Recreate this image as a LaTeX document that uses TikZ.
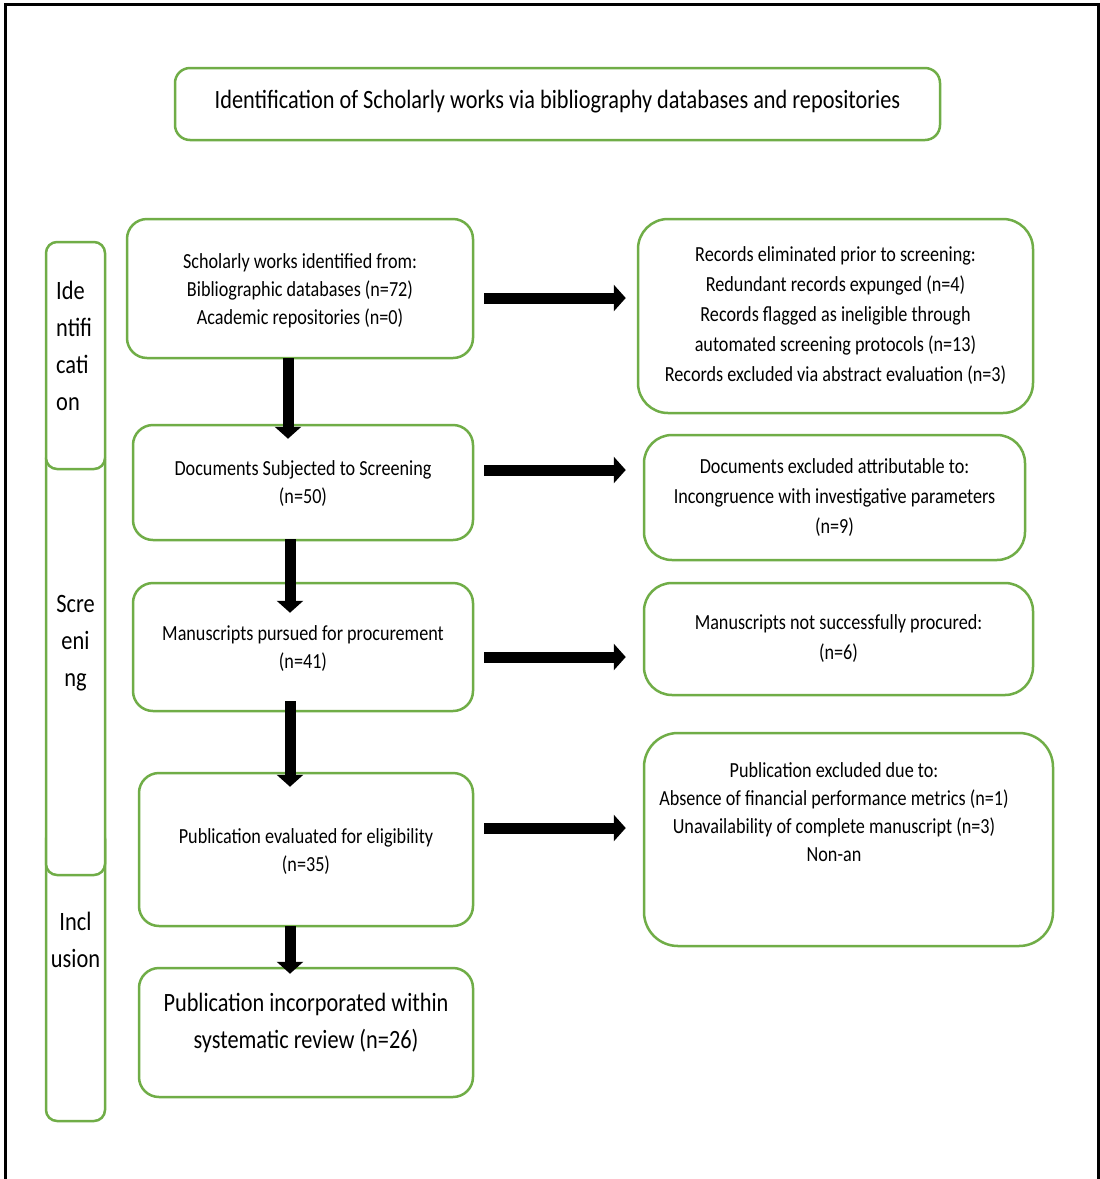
\documentclass[tikz,border=0pt]{standalone}
\usepackage{fontspec}
\setmainfont{Carlito}[FakeStretch=0.845]
\usetikzlibrary{arrows.meta,calc}
\definecolor{boxgreen}{HTML}{70AD47}
\begin{document}
\begin{tikzpicture}[x=1pt,y=-1pt,
  gbox/.style={draw=boxgreen,line width=2.5pt,fill=white,inner sep=0pt,align=center,text=black},
  maintext/.style={font=\fontsize{21.5}{28}\selectfont,align=center,inner sep=0pt},
  righttext/.style={font=\fontsize{21.5}{30}\selectfont},
  bigtext/.style={font=\fontsize{26.4}{37}\selectfont},
  sidetext/.style={font=\fontsize{26.5}{37}\selectfont,inner sep=0pt},
  fatarrow/.style={line width=11pt,-{Triangle[length=12pt,width=26pt]}}]
\useasboundingbox (0,0) rectangle (1100,1179);
\fill[white] (0,0) rectangle (1100,1179);
% outer frame
\draw[line width=3pt] (5,1179) -- (5,4) -- (1098,4) -- (1098,1179);
% title
\node[gbox,rounded corners=15pt,minimum width=765pt,minimum height=72pt] (title) at (557.5,104) {};
\node[font=\fontsize{26.4}{30}\selectfont,inner sep=0pt] (titlet) at ($(title)+(0,-2.5)$) {Identification of Scholarly works via bibliography databases and repositories};
% side phase boxes
\node[gbox,rounded corners=11pt,minimum width=59pt,minimum height=293pt] (s3) at (75.5,974.5) {};
\node[gbox,rounded corners=11pt,minimum width=59pt,minimum height=427pt] (s2) at (75.5,661.5) {};
\node[gbox,rounded corners=11pt,minimum width=59pt,minimum height=227pt] (s1) at (75.5,355.5) {};
\node[sidetext,align=left,anchor=west] (s1t) at (56,346) {Ide\\ntifi\\cati\\on};
\node[sidetext,align=center] (s2t) at (75.5,643) {Scre\\eni\\ng};
\node[sidetext,align=center] (s3t) at (75.5,940) {Incl\\usion};
% main boxes
\node[gbox,rounded corners=20pt,minimum width=346pt,minimum height=139pt] (b1) at (300,288.5) {};
\node[maintext] (b1t) at ($(b1)+(0,2)$) {Scholarly works identified from:\\Bibliographic databases (n=72)\\Academic repositories (n=0)};
\node[gbox,rounded corners=20pt,minimum width=340pt,minimum height=115pt] (b2) at (303,482.5) {};
\node[maintext] (b2t) at ($(b2)+(0,1.5)$) {Documents Subjected to Screening\\(n=50)};
\node[gbox,rounded corners=20pt,minimum width=340pt,minimum height=128pt] (b3) at (303,647) {};
\node[maintext] (b3t) at ($(b3)+(0,2)$) {Manuscripts pursued for procurement\\(n=41)};
\node[gbox,rounded corners=20pt,minimum width=334pt,minimum height=153pt] (b4) at (306,849.5) {};
\node[maintext] (b4t) at ($(b4)+(0,2)$) {Publication evaluated for eligibility\\(n=35)};
\node[gbox,rounded corners=20pt,minimum width=334pt,minimum height=129pt] (b5) at (306,1032.5) {};
\node[bigtext,align=center,inner sep=0pt] (b5t) at (306,1023) {Publication incorporated within\\systematic review (n=26)};
% right boxes
\node[gbox,righttext,rounded corners=30pt,minimum width=395pt,minimum height=194pt] (r1) at (835.5,316) {Records eliminated prior to screening:\\Redundant records expunged (n=4)\\Records flagged as ineligible through\\automated screening protocols (n=13)\\Records excluded via abstract evaluation (n=3)};
\node[gbox,righttext,rounded corners=28pt,minimum width=381pt,minimum height=125pt] (r2) at (834.5,497.5) {Documents excluded attributable to:\\Incongruence with investigative parameters\\(n=9)};
\node[gbox,righttext,rounded corners=28pt,minimum width=389pt,minimum height=112pt] (r3) at (838.5,639) {Manuscripts not successfully procured:\\(n=6)};
\node[gbox,rounded corners=34pt,minimum width=409pt,minimum height=213pt] (r4) at (848.5,839.5) {};
\node[maintext] (r4t) at (834,812) {Publication excluded due to:\\Absence of financial performance metrics (n=1)\\Unavailability of complete manuscript (n=3)\\Non-an};
% vertical arrows
\draw[fatarrow] ($(b1.south)+(-12,-1)$) -- ($(b2.north)+(-15,15)$);
\draw[fatarrow] ($(b2.south)+(-13,-2)$) -- ($(b3.north)+(-13,31)$);
\draw[fatarrow] ($(b3.south)+(-13,-11)$) -- ($(b4.north)+(-16,15)$);
\draw[fatarrow] ($(b4.south)+(-16,-1)$) -- ($(b5.north)+(-16,7)$);
% horizontal arrows
\draw[fatarrow] ($(b1.east)+(10,9.5)$) -- ($(r1.west)+(-11,-18)$);
\draw[fatarrow] ($(b2.east)+(10,-12.5)$) -- ($(r2.west)+(-17,-27.5)$);
\draw[fatarrow] ($(b3.east)+(10,10)$) -- ($(r3.west)+(-17,18)$);
\draw[fatarrow] ($(b4.east)+(10,-21.5)$) -- ($(r4.west)+(-17,-11.5)$);
\end{tikzpicture}
\end{document}
